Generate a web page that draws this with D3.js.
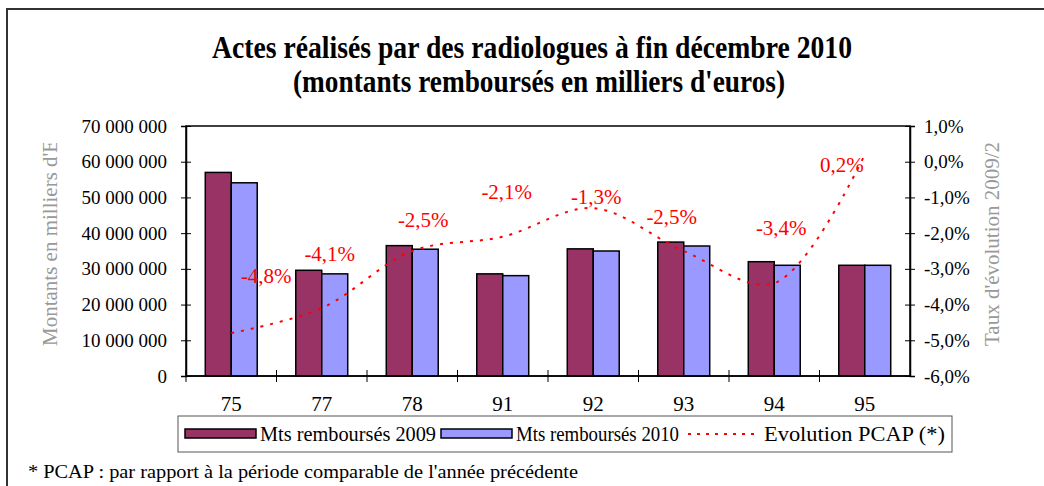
<!DOCTYPE html>
<html>
<head>
<meta charset="utf-8">
<script src="https://cdn.jsdelivr.net/npm/d3@7"></script>
<style>
  body { margin: 0; background: #fff; }
  svg { display: block; font-family: "Liberation Serif", "Times New Roman", serif; }
</style>
</head>
<body>
<svg id="chart" width="1044" height="486"></svg>
<script>
// data
const departements = ['75', '77', '78', '91', '92', '93', '94', '95'];
const montants2009 = [57000000, 29600000, 36500000, 28600000, 35600000, 37500000, 32000000, 31000000];
const montants2010 = [54100000, 28600000, 35500000, 28100000, 35000000, 36400000, 31000000, 31000000];
const evolution = [-0.048, -0.041, -0.025, -0.021, -0.013, -0.025, -0.034, 0.002];
const leftTicks = [0, 10000000, 20000000, 30000000, 40000000, 50000000, 60000000, 70000000];
const rightTicks = [0.01, 0, -0.01, -0.02, -0.03, -0.04, -0.05, -0.06];
const seriesNames = ['Mts remboursés 2009', 'Mts remboursés 2010', 'Evolution PCAP (*)'];

const COL_2009 = '#993366';
const COL_2010 = '#9999ff';
const COL_LINE = '#ff0000';

const svg = d3.select('#chart');

const fr = d3.formatLocale({ decimal: ',', thousands: '\u00a0', grouping: [3], currency: ['', ' €'], minus: '-' });
const fmtNum = fr.format(',d');
const fmtPct = fr.format('.1%');

// outer frame (only left and top edges visible)
svg.append('rect')
  .attr('x', 7).attr('y', 9).attr('width', 1100).attr('height', 600)
  .attr('fill', 'none').attr('stroke', '#333').attr('stroke-width', 2);

// title
const title = svg.append('g').attr('font-weight', 'bold').attr('fill', '#000');
title.append('text')
  .attr('x', 212).attr('y', 58).attr('font-size', 31)
  .attr('textLength', 640).attr('lengthAdjust', 'spacingAndGlyphs')
  .text('Actes réalisés par des radiologues à fin décembre 2010');
title.append('text')
  .attr('x', 293).attr('y', 92).attr('font-size', 31)
  .attr('textLength', 492).attr('lengthAdjust', 'spacingAndGlyphs')
  .text("(montants remboursés en milliers d'euros)");

// plot area
const plot = { left: 186, right: 910, top: 126, bottom: 376 };

const x = d3.scaleBand().domain(departements).range([plot.left, plot.right]).padding(0);
const bw = x.bandwidth();
const xs = d3.scaleBand().domain(['2009', '2010']).range([bw * 0.213, bw * 0.787]);
const y = d3.scaleLinear().domain([0, 70000000]).range([plot.bottom, plot.top]);
const y2 = d3.scaleLinear().domain([-0.06, 0.01]).range([plot.bottom, plot.top]);

svg.append('rect')
  .attr('x', plot.left).attr('y', plot.top)
  .attr('width', plot.right - plot.left).attr('height', plot.bottom - plot.top)
  .attr('fill', 'none').attr('stroke', '#000').attr('stroke-width', 1.5);

// bars
const bars = svg.append('g');
const rows = departements.map((d, i) => ({ dep: d, v2009: montants2009[i], v2010: montants2010[i] }));
bars.selectAll('rect.b2009')
  .data(rows).enter().append('rect')
  .attr('x', d => x(d.dep) + xs('2009'))
  .attr('y', d => y(d.v2009))
  .attr('width', xs.bandwidth())
  .attr('height', d => y(0) - y(d.v2009))
  .attr('fill', COL_2009).attr('stroke', '#000').attr('stroke-width', 1.5);
bars.selectAll('rect.b2010')
  .data(rows).enter().append('rect')
  .attr('x', d => x(d.dep) + xs('2010'))
  .attr('y', d => y(d.v2010))
  .attr('width', xs.bandwidth())
  .attr('height', d => y(0) - y(d.v2010))
  .attr('fill', COL_2010).attr('stroke', '#000').attr('stroke-width', 1.5);

// left axis
const yAxis = svg.append('g')
  .attr('transform', `translate(${plot.left},0)`)
  .call(d3.axisLeft(y).tickValues(leftTicks).tickFormat(fmtNum).tickSize(5).tickPadding(14));
yAxis.selectAll('.tick line').attr('x1', 5);
yAxis.selectAll('text').attr('font-size', 19).attr('font-family', 'Liberation Serif, serif').attr('fill', '#000');
yAxis.select('.domain').attr('stroke-width', 1.5);

// right axis
const y2Axis = svg.append('g')
  .attr('transform', `translate(${plot.right},0)`)
  .call(d3.axisRight(y2).tickValues(rightTicks).tickFormat(fmtPct).tickSize(5).tickPadding(9));
y2Axis.selectAll('.tick line').attr('x1', -5);
y2Axis.selectAll('text').attr('font-size', 19).attr('font-family', 'Liberation Serif, serif').attr('fill', '#000');
y2Axis.select('.domain').attr('stroke-width', 1.5);

// x axis: ticks between categories
const xAxis = svg.append('g').attr('transform', `translate(0,${plot.bottom})`);
xAxis.append('line')
  .attr('x1', plot.left).attr('x2', plot.right).attr('stroke', '#000').attr('stroke-width', 1.5);
xAxis.selectAll('line.sep')
  .data(departements).enter().append('line')
  .attr('x1', d => x(d)).attr('x2', d => x(d))
  .attr('y1', -6).attr('y2', 6).attr('stroke', '#000');
xAxis.selectAll('text')
  .data(departements).enter().append('text')
  .attr('x', d => x(d) + bw / 2).attr('y', 35)
  .attr('text-anchor', 'middle').attr('font-size', 21)
  .text(d => d);

// axis titles (clipped at the top, as in the source)
const clip = svg.append('clipPath').attr('id', 'titleclip');
clip.append('rect').attr('x', 0).attr('y', 143).attr('width', 1044).attr('height', 300);
const axTitles = svg.append('g').attr('clip-path', 'url(#titleclip)')
  .attr('fill', '#999').attr('font-size', 21);
axTitles.append('text')
  .attr('transform', 'translate(57,346) rotate(-90)')
  .text("Montants en milliers d'Euros");
axTitles.append('text')
  .attr('transform', 'translate(999,346) rotate(-90)')
  .text("Taux d'évolution 2009/2010");

// evolution line
const pts = evolution.map((v, i) => [x(departements[i]) + bw / 2, y2(v)]);
svg.append('path')
  .attr('d', d3.line().curve(d3.curveCatmullRom.alpha(0.5))(pts))
  .attr('fill', 'none').attr('stroke', COL_LINE).attr('stroke-width', 2)
  .attr('stroke-dasharray', '3,7');

// data labels, nudged like the hand-placed labels of the source
const labelNudge = [[35, -57], [8, -54], [11, -31], [4, -45], [3, -11], [-12, -34], [7, -55], [-23, 10]];
svg.append('g').selectAll('text')
  .data(evolution).enter().append('text')
  .attr('x', (d, i) => pts[i][0] + labelNudge[i][0])
  .attr('y', (d, i) => pts[i][1] + labelNudge[i][1])
  .attr('dy', '0.35em')
  .attr('text-anchor', 'middle').attr('font-size', 21).attr('fill', COL_LINE)
  .text(d => fmtPct(d));

// legend
const lg = svg.append('g');
lg.append('rect')
  .attr('x', 178).attr('y', 416).attr('width', 774).attr('height', 36)
  .attr('fill', '#fff').attr('stroke', '#555').attr('stroke-width', 1);
const items = [
  { sw: 185, tx: 260, tl: 176 },
  { sw: 441, tx: 516, tl: 163 },
  { sw: 688, tx: 764, tl: 181 }
];
lg.selectAll('rect.sw')
  .data(items.slice(0, 2)).enter().append('rect')
  .attr('x', d => d.sw).attr('y', 429).attr('width', 71).attr('height', 9)
  .attr('fill', (d, i) => i === 0 ? COL_2009 : COL_2010)
  .attr('stroke', '#000').attr('stroke-width', 1.5);
lg.append('line')
  .attr('x1', items[2].sw).attr('x2', items[2].sw + 66).attr('y1', 434).attr('y2', 434)
  .attr('stroke', COL_LINE).attr('stroke-width', 2).attr('stroke-dasharray', '3,6');
lg.selectAll('text')
  .data(items).enter().append('text')
  .attr('x', d => d.tx).attr('y', 441)
  .attr('font-size', 20)
  .attr('textLength', d => d.tl).attr('lengthAdjust', 'spacingAndGlyphs')
  .text((d, i) => seriesNames[i]);

// footnote
svg.append('text')
  .attr('x', 28).attr('y', 478).attr('font-size', 19)
  .attr('textLength', 550).attr('lengthAdjust', 'spacingAndGlyphs')
  .text("* PCAP : par rapport à la période comparable de l'année précédente");
</script>
</body>
</html>
